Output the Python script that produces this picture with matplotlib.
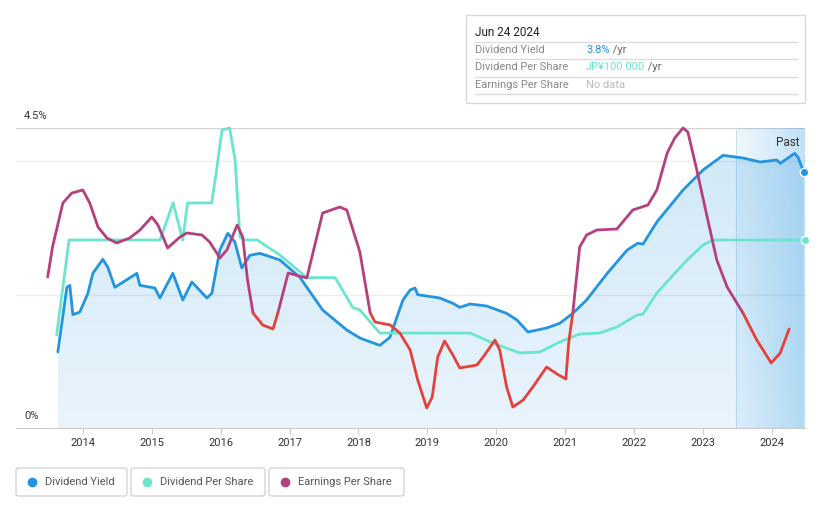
import numpy as np
import matplotlib.pyplot as plt
from matplotlib.patches import Polygon, Rectangle, FancyBboxPatch

plt.rcParams['font.family'] = ['Roboto', 'DejaVu Sans']

# Dividend yield (%)
dy_x = [2013.637, 2013.768, 2013.811, 2013.855, 2013.956, 2014.073, 2014.145, 2014.290, 2014.363, 2014.464,
        2014.784, 2014.827, 2015.045, 2015.118, 2015.306, 2015.451, 2015.582, 2015.800, 2015.872, 2015.988,
        2016.104, 2016.206, 2016.308, 2016.424, 2016.569, 2016.86, 2017.15, 2017.48, 2017.83, 2018.02,
        2018.31, 2018.456, 2018.645, 2018.75, 2018.82, 2018.86, 2019.18, 2019.37, 2019.47, 2019.62,
        2019.86, 2020.15, 2020.30, 2020.46, 2020.73, 2020.92, 2021.11, 2021.31, 2021.61, 2021.90,
        2022.05, 2022.13, 2022.33, 2022.71, 2023.00, 2023.29, 2023.58, 2023.83, 2024.07, 2024.12,
        2024.33, 2024.38, 2024.46]
dy_y = [1.14, 2.11, 2.14, 1.70, 1.74, 2.02, 2.32, 2.53, 2.41, 2.11,
        2.32, 2.14, 2.10, 1.95, 2.32, 1.92, 2.19, 1.95, 2.02, 2.67,
        2.92, 2.79, 2.40, 2.59, 2.62, 2.52, 2.26, 1.77, 1.47, 1.35,
        1.24, 1.36, 1.92, 2.07, 2.10, 2.00, 1.95, 1.87, 1.81, 1.86,
        1.83, 1.72, 1.62, 1.44, 1.50, 1.57, 1.72, 1.92, 2.32, 2.67,
        2.77, 2.76, 3.09, 3.57, 3.87, 4.09, 4.05, 3.99, 4.02, 3.97,
        4.12, 4.06, 3.84]

# Dividend per share (JPY)
dps_x = [2013.62, 2013.80, 2015.12, 2015.31, 2015.45, 2015.52, 2015.87, 2015.94, 2016.02, 2016.13,
         2016.21, 2016.28, 2016.35, 2016.53, 2016.86, 2017.25, 2017.66, 2017.92, 2018.02, 2018.31,
         2019.62, 2019.95, 2020.34, 2020.63, 2020.92, 2021.21, 2021.50, 2021.75, 2022.04, 2022.13,
         2022.33, 2022.77, 2023.00, 2023.14, 2024.48]
dps_y = [49.5, 100, 100, 119.7, 100, 119.7, 119.7, 137, 158.5, 159.6,
         142.6, 101.6, 100, 100, 92, 80, 80, 64, 62.8, 50.5,
         50.5, 45.2, 39.9, 40.4, 45.7, 50, 50.5, 53.7, 60.1, 60.6,
         71.8, 89.4, 97.3, 100, 100]

# Earnings per share (JPY)
eps_x = [2013.49, 2013.56, 2013.71, 2013.84, 2014.00, 2014.10, 2014.22, 2014.35, 2014.49, 2014.68,
         2014.83, 2015.00, 2015.09, 2015.23, 2015.41, 2015.51, 2015.73, 2015.84, 2015.99, 2016.09,
         2016.24, 2016.32, 2016.39, 2016.47, 2016.61, 2016.76, 2016.83, 2016.98, 2017.25, 2017.48,
         2017.73, 2017.83, 2018.02, 2018.17, 2018.24, 2018.46, 2018.60, 2018.75, 2018.86, 2018.99,
         2019.07, 2019.15, 2019.25, 2019.37, 2019.47, 2019.72, 2019.83, 2019.98, 2020.05, 2020.15,
         2020.24, 2020.39, 2020.53, 2020.73, 2020.88, 2021.01, 2021.05, 2021.11, 2021.21, 2021.31,
         2021.46, 2021.75, 2021.98, 2022.20, 2022.33, 2022.48, 2022.59, 2022.71, 2022.78, 2022.91,
         2023.06, 2023.20, 2023.35, 2023.58, 2023.78, 2023.99, 2024.12, 2024.25]
eps_y = [36, 66, 110, 120, 123, 110, 86, 75, 70, 75,
         83, 96, 88, 65, 76, 80, 78, 71, 55, 63,
         88, 76, 33, 0, -12, -16, 0, 40, 35, 100,
         106, 103, 61, 0, -9, -12, -20, -37, -67, -95,
         -84, -44, -28, -42, -55, -52, -42, -27, -37, -74,
         -94, -87, -74, -54, -61, -66, -30, 0, 66, 78,
         83, 84, 103, 108, 123, 160, 175, 185, 181, 143,
         96, 53, 26, 0, -27, -50, -40, -16]

years = list(range(2014, 2025))
year_labels = [str(y) for y in years]

W, H = 821, 508
BLUE = '#2394df'
TEAL = '#6ce5d0'
PURPLE = '#b5407e'
RED = '#e5413b'
XMIN, XMAX = 2013.03, 2024.48
PAST = 2023.48


def fx(px):
    return px / W


def fy(py):
    return 1 - py / H


fig = plt.figure(figsize=(8.21, 5.08), dpi=100)
ax = fig.add_axes([fx(16), fy(428), (805 - 16) / W, 300 / H])
for s in ['top', 'right', 'left']:
    ax.spines[s].set_visible(False)
ax.spines['bottom'].set_color('#cccccc')
ax.set_yticks([])
ax.set_xticks(years)
ax.set_xticklabels(year_labels, fontsize=8, color='#333333')
ax.tick_params(axis='x', length=4, color='#cccccc', pad=3)

ax.axhline(4.5, color='#d4d4d4', lw=1, zorder=1)
ax.axhline(4.0, color='#eeeeee', lw=1, zorder=1)
ax.axhline(2.0, color='#eeeeee', lw=1, zorder=1)

# past region
past = np.zeros((1, 100, 4))
past[..., 0] = 35 / 255
past[..., 1] = 148 / 255
past[..., 2] = 223 / 255
past[..., 3] = np.linspace(0.07, 0.28, 100)
ax.imshow(past, extent=[PAST, XMAX, 0, 4.5], aspect='auto', zorder=1.5, interpolation='bilinear')
ax.axvline(PAST, color='#c8e0f1', lw=0.8, zorder=1.6)
ax.text(2024.4, 4.28, 'Past', ha='right', va='center', fontsize=8.5, color='#333333')

# gradient fill under yield
grad = np.zeros((100, 1, 4))
grad[..., 0] = 35 / 255
grad[..., 1] = 148 / 255
grad[..., 2] = 223 / 255
grad[..., 3] = np.linspace(0.22, 0.1, 100)[:, None]
verts = list(zip(dy_x, dy_y)) + [(dy_x[-1], 0), (dy_x[0], 0)]
poly = Polygon(verts, closed=True, facecolor='none', edgecolor='none')
ax.add_patch(poly)
im = ax.imshow(grad, extent=[dy_x[0], dy_x[-1], 0, 4.5], aspect='auto', zorder=2,
               interpolation='bilinear')
im.set_clip_path(poly)
ax.set_xlim(XMIN, XMAX)
ax.set_ylim(0, 4.5)

ax.plot(dy_x, dy_y, color=BLUE, lw=2, zorder=5, solid_capstyle='round', solid_joinstyle='round')
ax.plot(dy_x[-1], dy_y[-1], 'o', ms=6, color=BLUE, mec='white', mew=1, zorder=8, clip_on=False)

ax2 = ax.twinx()
ax2.set_ylim(0, 100 * 300 / 188)
ax2.axis('off')
ax2.plot(dps_x, dps_y, color=TEAL, lw=2, zorder=4, clip_on=False,
         solid_capstyle='round', solid_joinstyle='round')
ax2.plot(dps_x[-1], dps_y[-1], 'o', ms=6, color=TEAL, mec='white', mew=1, zorder=8, clip_on=False)

ax3 = ax.twinx()
ax3.set_ylim(-115, 185)
ax3.axis('off')
ex = np.array(eps_x)
ey = np.array(eps_y, dtype=float)
ax3.plot(ex, np.where(ey >= 0, ey, np.nan), color=PURPLE, lw=2, clip_on=False,
         solid_capstyle='round', solid_joinstyle='round')
ax3.plot(ex, np.where(ey <= 0, ey, np.nan), color=RED, lw=2, clip_on=False,
         solid_capstyle='round', solid_joinstyle='round')
ax3.set_xlim(XMIN, XMAX)

# y labels
fig.text(fx(24), fy(116), '4.5%', fontsize=8, color='#333333', va='center')
fig.text(fx(24), fy(416), '0%', fontsize=8, color='#333333', va='center')

# tooltip
fig.patches.append(Rectangle((fx(466), fy(103)), (805 - 466) / W, 88 / H, transform=fig.transFigure,
                             facecolor='white', edgecolor='#d9d9d9', lw=1))
fig.text(fx(475), fy(32), 'Jun 24 2024', fontsize=8.5, color='#222222', va='center')
for py in [42, 59, 77, 94]:
    fig.add_artist(plt.Line2D([fx(475), fx(797)], [fy(py), fy(py)], transform=fig.transFigure,
                              color='#dddddd', lw=1))
rows = [('Dividend Yield', '3.8%', BLUE, ' /yr'),
        ('Dividend Per Share', 'JP¥100.000', TEAL, ' /yr'),
        ('Earnings Per Share', 'No data', '#bbbbbb', '')]
renderer = fig.canvas.get_renderer()
for (lab, val, col, suf), py in zip(rows, [50, 67, 85]):
    fig.text(fx(475), fy(py), lab, fontsize=8, color='#888888', va='center')
    t = fig.text(fx(586), fy(py), val, fontsize=8, color=col, va='center')
    if suf:
        bb = t.get_window_extent(renderer)
        fig.text(bb.x1 / W, fy(py), suf, fontsize=8, color='#666666', va='center')

# legend
legend = [('Dividend Yield', BLUE, 16, 127), ('Dividend Per Share', TEAL, 131, 265),
          ('Earnings Per Share', PURPLE, 269, 404)]
for lab, col, x0, x1 in legend:
    fig.patches.append(FancyBboxPatch((fx(x0), fy(496)), (x1 - x0) / W, 28 / H,
                                      boxstyle='round,pad=0,rounding_size=0.004',
                                      transform=fig.transFigure, facecolor='white',
                                      edgecolor='#d5d5d5', lw=1))
    fig.add_artist(plt.Line2D([fx(x0 + 16)], [fy(482)], marker='o', ms=6, color=col,
                              transform=fig.transFigure))
    fig.text(fx(x0 + 29), fy(482), lab, fontsize=8, color='#555555', va='center')

fig.savefig('out.png', dpi=100)
